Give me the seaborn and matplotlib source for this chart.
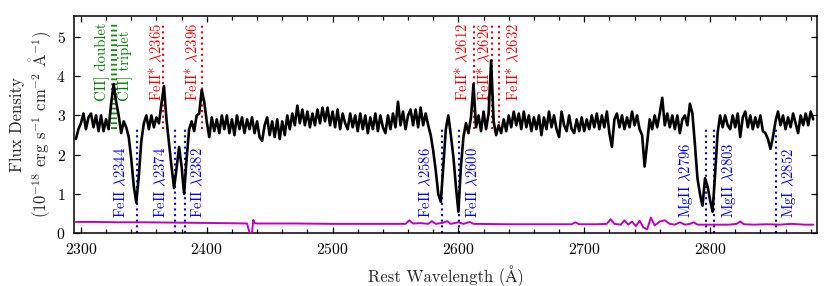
import numpy as np
import pandas as pd
import matplotlib
matplotlib.use("Agg")
import matplotlib.pyplot as plt
from matplotlib.ticker import MultipleLocator
from matplotlib.mathtext import MathTextParser
import seaborn as sns

# ---------------- data ----------------
# wavelength sampling of the spectrum (rest frame, Angstrom), 2 A steps
wave = np.arange(2296, 2884, 2)
flux = [
    2.40, 2.65, 2.80, 3.05, 2.65, 2.95, 3.05, 2.70, 3.00, 2.60,   # 2296-2314
    3.00, 2.60, 2.90, 2.65, 3.30, 3.80, 3.35, 3.00, 2.55, 2.85,   # 2316-2334
    2.70, 2.45, 1.90, 1.20, 0.78, 1.45, 2.35, 2.80, 3.00, 2.65,   # 2336-2354
    3.00, 2.70, 2.95, 2.80, 3.30, 3.75, 2.90, 2.30, 1.70, 1.15,   # 2356-2374
    1.65, 2.20, 1.70, 1.00, 1.90, 2.65, 2.85, 2.60, 3.00, 3.05,   # 2376-2394
    3.65, 3.35, 2.85, 2.45, 2.95, 2.60, 2.90, 2.55, 3.00, 2.65,   # 2396-2414
    3.00, 2.55, 2.90, 2.50, 3.00, 2.65, 2.95, 2.55, 2.90, 2.65,   # 2416-2434
    2.95, 2.55, 2.85, 2.45, 2.35, 2.75, 2.95, 2.50, 2.85, 2.45,   # 2436-2454
    2.90, 2.40, 2.85, 2.50, 3.00, 2.65, 3.05, 2.75, 3.25, 2.80,   # 2456-2474
    3.15, 2.75, 3.10, 2.70, 3.05, 2.75, 3.15, 2.80, 3.20, 2.85,   # 2476-2494
    3.20, 2.75, 3.10, 2.70, 3.15, 2.65, 3.05, 2.80, 2.65, 3.05,   # 2496-2514
    2.70, 3.00, 2.60, 3.05, 2.65, 3.00, 2.55, 2.95, 2.65, 3.05,   # 2516-2534
    2.60, 3.00, 2.70, 2.55, 3.00, 2.65, 3.05, 2.70, 3.35, 2.75,   # 2536-2554
    3.10, 2.65, 3.00, 3.15, 2.75, 3.15, 2.70, 3.20, 2.75, 3.05,   # 2556-2574
    2.75, 2.50, 2.10, 1.60, 1.00, 0.80, 1.70, 2.65, 3.00, 2.50,   # 2576-2594
    1.95, 1.20, 0.55, 1.70, 2.45, 2.80, 2.55, 2.95, 3.80, 2.70,   # 2596-2614
    3.00, 2.60, 3.10, 2.65, 3.05, 4.40, 2.85, 2.50, 2.75, 2.55,   # 2616-2634
    2.90, 2.60, 3.00, 2.70, 3.10, 2.75, 3.05, 2.65, 3.10, 2.70,   # 2636-2654
    3.00, 2.60, 2.95, 2.65, 3.00, 2.50, 2.95, 2.65, 3.10, 2.70,   # 2656-2674
    3.00, 2.65, 2.45, 3.10, 2.75, 2.60, 3.00, 2.65, 2.55, 2.90,   # 2676-2694
    2.60, 2.95, 2.60, 2.90, 2.65, 3.00, 2.70, 3.05, 2.65, 3.00,   # 2696-2714
    2.70, 3.10, 2.55, 2.20, 2.90, 3.05, 2.70, 3.00, 2.65, 2.95,   # 2716-2734
    2.70, 3.10, 2.75, 3.00, 2.65, 2.50, 1.70, 2.30, 2.90, 2.65,   # 2736-2754
    3.00, 2.70, 3.05, 3.45, 2.75, 3.05, 2.70, 3.00, 2.65, 3.00,   # 2756-2774
    2.55, 2.90, 3.00, 2.75, 3.30, 3.05, 2.25, 1.40, 1.00, 0.70,   # 2776-2794
    1.40, 1.20, 0.85, 0.55, 1.50, 2.55, 3.00, 2.70, 3.00, 2.75,   # 2796-2814
    2.65, 3.00, 2.70, 3.05, 2.45, 2.95, 3.10, 2.70, 3.00, 2.65,   # 2816-2834
    2.95, 2.70, 3.00, 2.60, 2.55, 2.40, 2.15, 2.45, 2.85, 3.10,   # 2836-2854
    2.75, 3.00, 2.65, 2.95, 2.70, 3.05, 2.80, 2.55, 3.00, 2.75,   # 2856-2874
    3.05, 2.75, 3.10, 2.90,                                       # 2876-2882
]

err_wave = [2296, 2310, 2330, 2350, 2380, 2410, 2432, 2434, 2435, 2436, 2437, 2438, 2440,
            2470, 2500, 2530, 2558, 2561, 2564, 2570, 2576, 2579, 2582, 2588, 2591, 2594,
            2600, 2604, 2609, 2612, 2640, 2670, 2690, 2693, 2696, 2710, 2718, 2721, 2724,
            2729, 2732, 2735, 2738, 2741, 2744, 2747, 2750, 2753, 2756, 2760, 2764, 2768,
            2772, 2776, 2780, 2784, 2787, 2790, 2800, 2815, 2821, 2824, 2827, 2835, 2845,
            2855, 2865, 2875, 2882]
err_flux = [0.29, 0.29, 0.28, 0.28, 0.27, 0.26, 0.25, 0.02, 0.00, 0.02, 0.34, 0.26, 0.25,
            0.25, 0.24, 0.24, 0.24, 0.33, 0.25, 0.26, 0.24, 0.31, 0.24, 0.27, 0.31, 0.24,
            0.28, 0.24, 0.29, 0.24, 0.23, 0.23, 0.23, 0.28, 0.23, 0.23, 0.24, 0.36, 0.24,
            0.22, 0.33, 0.22, 0.30, 0.18, 0.32, 0.15, 0.10, 0.40, 0.20, 0.30, 0.33, 0.24,
            0.22, 0.28, 0.22, 0.24, 0.28, 0.22, 0.22, 0.22, 0.24, 0.30, 0.23, 0.22, 0.23,
            0.22, 0.24, 0.22, 0.22]

abs_lines = [2344.2, 2374.5, 2382.8, 2586.6, 2600.2, 2796.4, 2803.5, 2852.1]
abs_labels = [r"FeII $\lambda$2344", r"FeII $\lambda$2374", r"FeII $\lambda$2382",
              r"FeII $\lambda$2586", r"FeII $\lambda$2600", r"MgII $\lambda$2796",
              r"MgII $\lambda$2803", r"MgI $\lambda$2852"]

fs_lines = [2365.6, 2396.4, 2612.7, 2626.5, 2632.1]
fs_labels = [r"FeII* $\lambda$2365", r"FeII* $\lambda$2396", r"FeII* $\lambda$2612",
             r"FeII* $\lambda$2626", r"FeII* $\lambda$2632"]

cii_lines = [2324.8, 2326.4, 2328.0]
cii_labels = ["CII] doublet", "CII] triplet"]
cii_anchor = [2325.4, 2327.6]

# ---------------- layout / style ----------------
abs_dx_px = [-16, -14.5, 12.5, -16, 14, -19.5, 15, 13]
fs_dx_px = [-7.5, -11, -12.5, -8.5, 14]
cii_dx_px = [-11, 10]

sns.set_style("ticks")
plt.rcParams["font.family"] = ["cmr10", "STIXGeneral", "DejaVu Serif"]
plt.rcParams["mathtext.fontset"] = "cm"
plt.rcParams["axes.formatter.use_mathtext"] = True
plt.rcParams["axes.unicode_minus"] = False

# Angstrom sign inside mathtext
ang = r"$\mathring{\mathrm{A}}$"
try:
    MathTextParser("path").parse(ang)
except Exception:
    ang = "Å"

W, H = 831, 286
fig = plt.figure(figsize=(W / 100, H / 100), dpi=100)
ax = fig.add_axes([74 / W, 1 - 233.3 / H, (817 - 74) / W, (233.3 - 15.7) / H])

spec = pd.DataFrame({"wave": wave, "flux": flux})
err = pd.DataFrame({"wave": err_wave, "err": err_flux})

sns.lineplot(data=err, x="wave", y="err", color="#c000c0", lw=1.4, ax=ax,
             estimator=None, sort=False, zorder=3)
sns.lineplot(data=spec, x="wave", y="flux", color="black", lw=1.9, ax=ax,
             estimator=None, sort=False, zorder=4)

dot = dict(linestyles=(0, (1, 1.7)), linewidth=1.5, zorder=2)
ax.vlines(abs_lines, 0.0, 2.7, colors="blue", **dot)
ax.vlines(fs_lines, 2.65, 5.37, colors="red", **dot)
ax.vlines(cii_lines, 2.65, 5.37, colors="green", linestyles=(0, (1, 1.7)),
          linewidth=1.3, zorder=2)

lab_fs = 10.6
for lam, lab, dx in zip(abs_lines, abs_labels, abs_dx_px):
    ax.annotate(lab, xy=(lam, 0.40), xytext=(dx * 0.72, 0), textcoords="offset points",
                rotation=90, ha="center", va="bottom", color="blue", fontsize=lab_fs)
for lam, lab, dx in zip(fs_lines, fs_labels, fs_dx_px):
    ax.annotate(lab, xy=(lam, 3.37), xytext=(dx * 0.72, 0), textcoords="offset points",
                rotation=90, ha="center", va="bottom", color="red", fontsize=lab_fs)
for lam, lab, dx in zip(cii_anchor, cii_labels, cii_dx_px):
    ax.annotate(lab, xy=(lam, 3.37), xytext=(dx * 0.72, 0), textcoords="offset points",
                rotation=90, ha="center", va="bottom", color="green", fontsize=lab_fs)

ax.set_xlim(2294.5, 2885)
ax.set_ylim(0, 5.54)
ax.xaxis.set_major_locator(MultipleLocator(100))
ax.xaxis.set_minor_locator(MultipleLocator(20))
ax.yaxis.set_major_locator(MultipleLocator(1))
ax.tick_params(which="both", direction="in", top=True, right=True, width=0.9,
               colors="black", labelsize=11.3)
ax.tick_params(which="major", length=4.5)
ax.tick_params(which="minor", length=2.6)
ax.tick_params(axis="x", pad=6)
ax.tick_params(axis="y", pad=6)
for s in ax.spines.values():
    s.set_linewidth(1.1)
    s.set_color("black")

ax.set_xlabel("Rest Wavelength (Å)", fontsize=12, labelpad=6)
ax.set_ylabel("Flux Density\n" + r"(10$^{-18}$ erg s$^{-1}$ cm$^{-2}$ " + ang + r"$^{-1}$)",
              fontsize=12, labelpad=1.5, linespacing=1.15)

fig.savefig("out.png", dpi=100)
